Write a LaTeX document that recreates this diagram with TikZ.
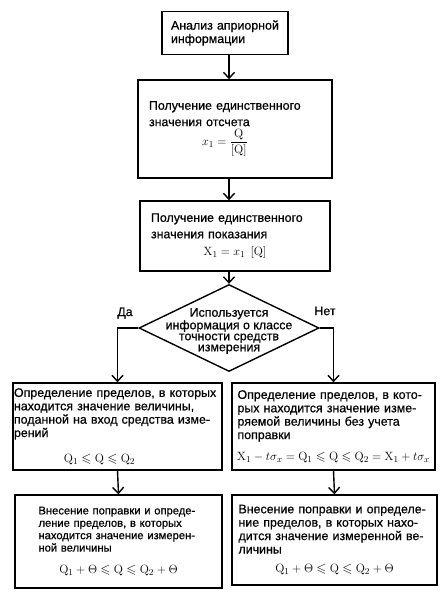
\documentclass[tikz,border=0pt]{standalone}
\usepackage{amsmath,amssymb}
\usepackage[no-math]{fontspec}
\setmainfont{Liberation Sans}[FakeBold=0.6]
\usetikzlibrary{arrows.meta,shapes.geometric}
\tikzset{
  box/.style={draw, line width=1.4pt, inner sep=0pt, align=left,
    font=\fontsize{12.4}{13.4}\selectfont},
  arr/.style={line width=1.4pt, -{Straight Barb[length=6pt,width=11pt]}},
  dia/.style={draw, diamond, line width=1.4pt, inner sep=0pt},
  lab/.style={font=\fontsize{12.4}{13}\selectfont, inner sep=0pt},
}
\newcommand{\ctr}[1]{\hbox to\hsize{\hss#1\hss}}
\begin{document}
\begin{tikzpicture}[x=1pt,y=-1pt]
\useasboundingbox (0,0) rectangle (442,596);

\node[box, text width=108pt, minimum width=126pt, minimum height=43pt] (b1) at (225,33)
  {Анализ априорной\\информации};

\node[box, text width=172pt, minimum width=194pt, minimum height=98pt] (b2) at (235,129)
  {Получение единственного\\[3pt]значения отсчета\\[2pt]
   \ctr{\fontsize{13}{15}\selectfont$x_1=\dfrac{\mathrm{Q}}{[\mathrm{Q}]}$\hspace{20pt}}};

\node[box, text width=168pt, minimum width=190pt, minimum height=70pt] (b3) at (235,236)
  {Получение единственного\\[3pt]значения показания\\[4pt]
   \ctr{\fontsize{13}{15}\selectfont$\mathrm{X}_1=x_1\;\,[\mathrm{Q}]$}};

\node[dia, minimum width=180pt, minimum height=87pt] (d) at (229,328) {};
\node[lab, align=center, font=\fontsize{12.4}{11}\selectfont] (dt) at (229,331)
  {Используется\\информация о классе\\точности средств\\измерения};

\node[lab] (da) at (125,313) {Да};
\node[lab] (net) at (325,311) {Нет};

\node[box, text width=207pt, minimum width=209pt, minimum height=87pt] (l1) at (117.5,426.5)
  {Определение пределов, в которых\\находится значение величины,\\поданной на вход средства изме-\\рений\\[12pt]
   \ctr{\fontsize{13}{15}\selectfont$\mathrm{Q}_1\leqslant \mathrm{Q}\leqslant \mathrm{Q}_2$\hspace{36pt}}};

\node[box, text width=192pt, minimum width=203pt, minimum height=87pt] (r1) at (333.5,426.5)
  {Определение пределов, в кото-\\рых находится значение изме-\\ряемой величины без учета\\поправки\\[8pt]
   \ctr{\fontsize{12.6}{15}\selectfont$\mathrm{X}_1-t\sigma_x=\mathrm{Q}_1\leqslant \mathrm{Q}\leqslant \mathrm{Q}_2=\mathrm{X}_1+t\sigma_x$}};

\node[box, font=\fontsize{11.2}{12.4}\selectfont, text width=176pt, minimum width=207pt, minimum height=93pt] (l2) at (118.5,541.5)
  {\hspace*{8pt}Внесение поправки и опреде-\\\hspace*{8pt}ление пределов, в которых\\\hspace*{8pt}находится значение измерен-\\\hspace*{8pt}ной величины\\[10pt]
   \ctr{\fontsize{13}{15}\selectfont$\mathrm{Q}_1+\Theta\leqslant \mathrm{Q}\leqslant \mathrm{Q}_2+\Theta$}};

\node[box, text width=192pt, minimum width=205pt, minimum height=90pt] (r2) at (334.5,540)
  {Внесение поправки и определе-\\ние пределов, в которых нахо-\\дится значение измеренной ве-\\личины\\[6pt]
   \ctr{\fontsize{13}{15}\selectfont$\mathrm{Q}_1+\Theta\leqslant \mathrm{Q}\leqslant \mathrm{Q}_2+\Theta$}};

\draw[arr] (b1.south -| d.north) -- (b2.north -| d.north);
\draw[arr] (b2.south -| d.north) -- (b3.north -| d.north);
\draw[arr] (b3.south -| d.north) -- (d.north);
\draw[arr] (d.west) -| (l1.north);
\draw[arr] (d.east) -| (r1.north);
\draw[arr] (l1.south) -- (l2.north);
\draw[arr] (r1.south) -- (r2.north);
\end{tikzpicture}
\end{document}
